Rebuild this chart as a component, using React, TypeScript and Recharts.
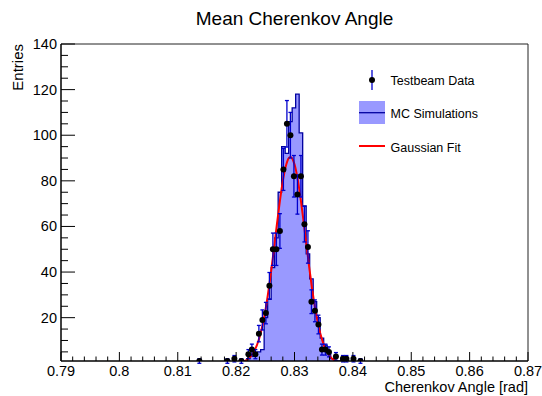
import React from "react";
import {
  ComposedChart,
  Area,
  Line,
  Scatter,
  ErrorBar,
  XAxis,
  YAxis,
} from "recharts";

const FONT = "'Liberation Sans', Arial, Helvetica, sans-serif";

// MC simulation histogram: left bin edges [rad] (bin width 0.0006) and entries
const mcEdges = [
  0.8188, 0.8194, 0.82, 0.8206, 0.8212, 0.8218, 0.8224, 0.823, 0.8236, 0.8242,
  0.8248, 0.8254, 0.826, 0.8266, 0.8272, 0.8278, 0.8284, 0.829, 0.8296, 0.8302,
  0.8308, 0.8314, 0.832, 0.8326, 0.8332, 0.8338, 0.8344, 0.835, 0.8356, 0.8362,
  0.8368, 0.8374, 0.838, 0.8386, 0.8392, 0.8398,
];
const mcCounts = [
  0, 1, 0, 1, 1, 2, 3, 4, 5, 6,
  20, 28, 42, 55, 75, 95, 92, 106, 112, 118,
  101, 69, 48, 37, 27, 20, 11, 8, 5, 2,
  1, 1, 1, 1, 0,
];

// testbeam data: bin centres, entries, statistical errors
const dataX = [
  0.8137, 0.8185, 0.8197, 0.8209, 0.8221, 0.8227, 0.8233, 0.8239, 0.8245, 0.8251,
  0.8257, 0.8263, 0.8269, 0.8275, 0.8281, 0.8287, 0.8293, 0.8299, 0.8305, 0.8311,
  0.8317, 0.8323, 0.8329, 0.8335, 0.8341, 0.8347, 0.8353, 0.8359, 0.8371, 0.8383,
  0.8389, 0.8401, 0.8413,
];
const dataY = [
  1, 1, 2, 1, 4, 6, 4, 13, 19, 22,
  34, 50, 50, 58, 85, 105, 100, 82, 74, 82,
  61, 51, 27, 23, 17, 6, 6, 5, 3, 2,
  2, 2, 1,
];
const dataErr = [
  1, 1, 1.4, 1, 2, 2.4, 2, 3.6, 4.4, 4.7,
  5.8, 7.1, 7.1, 7.6, 9.2, 10.2, 10, 9.1, 8.6, 9.1,
  7.8, 7.1, 5.2, 4.8, 4.1, 2.4, 2.4, 2.2, 1.7, 1.4,
  1.4, 1.4, 1,
];

// gaussian fit curve
const fitX = [
  0.8215, 0.822, 0.823, 0.824, 0.825, 0.826, 0.8265, 0.827, 0.8275, 0.828,
  0.8285, 0.829, 0.8293, 0.8295, 0.83, 0.8305, 0.831, 0.8315, 0.832, 0.8325,
  0.833, 0.834, 0.835, 0.836, 0.837, 0.8372,
];
const fitY = [
  1.0, 1.8, 4.8, 11.3, 23.0, 40.4, 50.7, 61.2, 71.2, 79.9,
  86.3, 89.9, 90.5, 90.2, 87.3, 81.4, 73.1, 63.3, 52.8, 42.5,
  32.9, 17.7, 8.2, 3.3, 1.1, 1.0,
];

const xMajorTicks = [0.79, 0.8, 0.81, 0.82, 0.83, 0.84, 0.85, 0.86, 0.87];
const xMinorTicks = [
  0.792, 0.794, 0.796, 0.798, 0.802, 0.804, 0.806, 0.808, 0.812, 0.814, 0.816, 0.818,
  0.822, 0.824, 0.826, 0.828, 0.832, 0.834, 0.836, 0.838, 0.842, 0.844, 0.846, 0.848,
  0.852, 0.854, 0.856, 0.858, 0.862, 0.864, 0.866, 0.868,
];
const yMajorTicks = [20, 40, 60, 80, 100, 120, 140];
const yMinorTicks = [5, 10, 15, 25, 30, 35, 45, 50, 55, 65, 70, 75, 85, 90, 95, 105, 110, 115, 125, 130, 135];

const HIST_FILL = "#9999ff";
const HIST_LINE = "#0000a0";
const ERR_COLOR = "#0000cc";
const FIT_COLOR = "#ff0000";

const isMajor = (list: number[], v: number) => list.some((t) => Math.abs(t - v) < 1e-9);

function XTick(props: any) {
  const { x, y, payload } = props;
  const major = isMajor(xMajorTicks, payload.value);
  return (
    <g>
      <line x1={x} y1={y} x2={x} y2={y - (major ? 9 : 4.5)} stroke="#000" strokeWidth={1} />
      {major && (
        <text x={x} y={y + 15} textAnchor="middle" fontSize={14.5} fontFamily={FONT} fill="#000">
          {String(Number(payload.value.toFixed(2)))}
        </text>
      )}
    </g>
  );
}

function YTick(props: any) {
  const { x, y, payload } = props;
  const major = isMajor(yMajorTicks, payload.value);
  return (
    <g>
      <line x1={x} y1={y} x2={x + (major ? 14 : 7)} y2={y} stroke="#000" strokeWidth={1} />
      {major && (
        <text x={x - 4} y={y + 5} textAnchor="end" fontSize={14.5} fontFamily={FONT} fill="#000">
          {payload.value}
        </text>
      )}
    </g>
  );
}

const DataDot = (props: any) => <circle cx={props.cx} cy={props.cy} r={3} fill="#000" />;

export default function App() {
  const histData = mcEdges.map((x, i) => ({ x, mc: mcCounts[Math.min(i, mcCounts.length - 1)] }));
  const pointData = dataX.map((x, i) => ({ x, y: dataY[i], err: dataErr[i] }));
  const fitData = fitX.map((x, i) => ({ x, fit: fitY[i] }));

  return (
    <div style={{ position: "absolute", left: 0, top: 0, width: 542, height: 396, background: "#fff" }}>
      <ComposedChart width={542} height={396} margin={{ top: 34, right: 4, bottom: 5, left: 11 }}>
        <XAxis
          dataKey="x"
          type="number"
          domain={[0.79, 0.87]}
          ticks={[...xMajorTicks, ...xMinorTicks]}
          interval={0}
          height={30}
          tickSize={0}
          tickMargin={0}
          tickLine={false}
          tick={XTick}
          axisLine={{ stroke: "#000", strokeWidth: 1.5 }}
          allowDataOverflow
        />
        <XAxis
          xAxisId="top"
          orientation="top"
          type="number"
          domain={[0.79, 0.87]}
          height={10}
          tick={false}
          tickLine={false}
          axisLine={{ stroke: "#222", strokeWidth: 1 }}
        />
        <YAxis
          type="number"
          domain={[1, 140]}
          ticks={[...yMajorTicks, ...yMinorTicks]}
          interval={0}
          width={50}
          tickSize={0}
          tickMargin={0}
          tickLine={false}
          tick={YTick}
          axisLine={{ stroke: "#000", strokeWidth: 1.5 }}
          allowDataOverflow
        />
        <YAxis
          yAxisId="right"
          orientation="right"
          type="number"
          domain={[1, 140]}
          width={10}
          tick={false}
          tickLine={false}
          axisLine={{ stroke: "#222", strokeWidth: 1 }}
        />
        <Area
          data={histData}
          dataKey="mc"
          name="MC Simulations"
          type="stepAfter"
          fill={HIST_FILL}
          fillOpacity={1}
          stroke={HIST_LINE}
          strokeWidth={1.3}
          dot={false}
          activeDot={false}
          isAnimationActive={false}
        />
        <Line
          data={fitData}
          dataKey="fit"
          name="Gaussian Fit"
          type="monotone"
          stroke={FIT_COLOR}
          strokeWidth={2}
          dot={false}
          activeDot={false}
          isAnimationActive={false}
        />
        <Scatter data={pointData} dataKey="y" name="Testbeam Data" shape={DataDot} isAnimationActive={false}>
          <ErrorBar dataKey="err" direction="y" width={2} stroke={ERR_COLOR} strokeWidth={1.3} />
        </Scatter>
      </ComposedChart>

      {/* title, axis titles and legend in ROOT style */}
      <svg
        width={542}
        height={396}
        style={{ position: "absolute", left: 0, top: 0, pointerEvents: "none" }}
        fontFamily={FONT}
      >
        <text x={294.5} y={25} textAnchor="middle" fontSize={19} fill="#000">
          Mean Cherenkov Angle
        </text>
        <text x={528} y={391.5} textAnchor="end" fontSize={14.5} fill="#000">
          Cherenkov Angle [rad]
        </text>
        <text transform="translate(23,44) rotate(-90)" textAnchor="end" fontSize={15} fill="#000">
          Entries
        </text>

        <line x1={372} y1={70} x2={372} y2={90} stroke={ERR_COLOR} strokeWidth={1.3} />
        <circle cx={372} cy={80} r={3} fill="#000" />
        <text x={390.5} y={84.5} fontSize={12.5} fill="#000">Testbeam Data</text>

        <rect x={359} y={101} width={26} height={23} fill={HIST_FILL} />
        <line x1={359} y1={112.7} x2={385} y2={112.7} stroke={HIST_LINE} strokeWidth={1.3} />
        <text x={390.5} y={117.5} fontSize={12.5} fill="#000">MC Simulations</text>

        <line x1={359} y1={146} x2={385} y2={146} stroke={FIT_COLOR} strokeWidth={2} />
        <text x={390.5} y={151.5} fontSize={12.5} fill="#000">Gaussian Fit</text>
      </svg>
    </div>
  );
}
